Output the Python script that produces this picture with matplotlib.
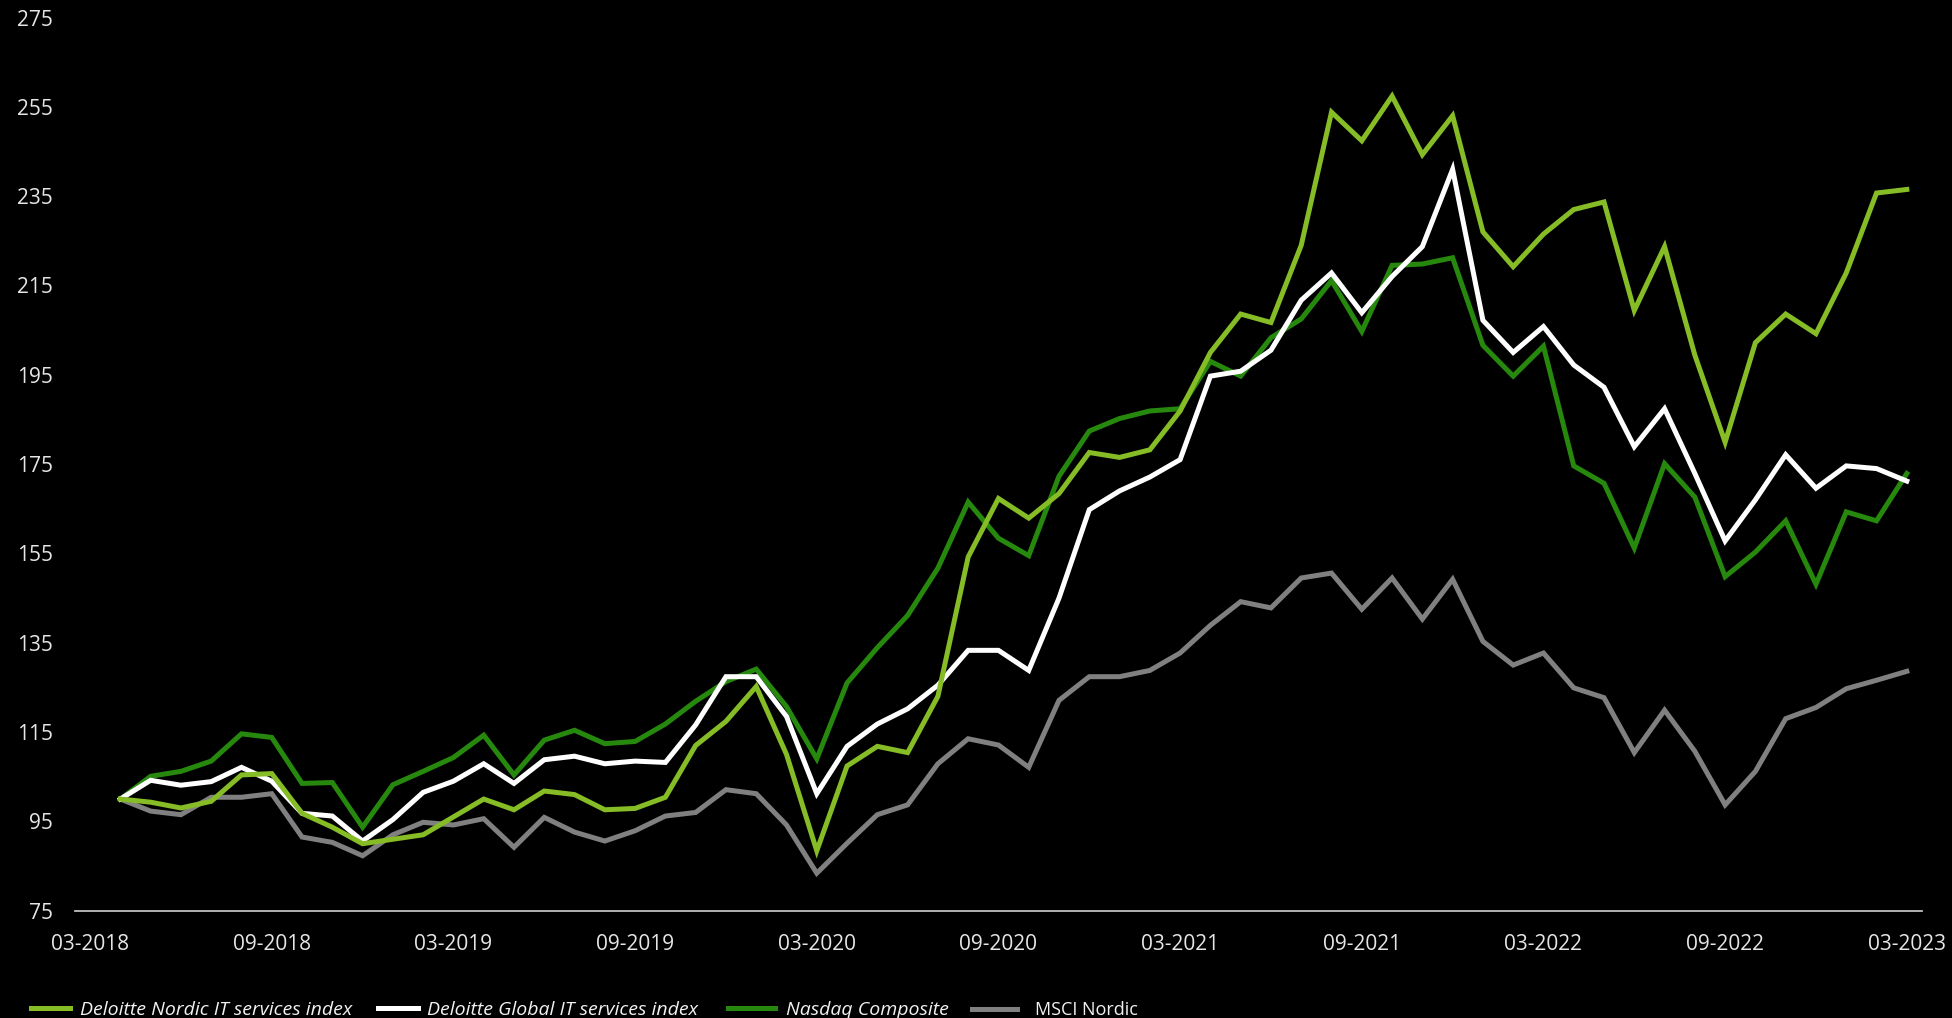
import matplotlib
matplotlib.use("Agg")
import matplotlib.pyplot as plt
from matplotlib.lines import Line2D

# month index: 0 = 03-2018 ... 60 = 03-2023, data starts at 04-2018
months = list(range(1, 61))
tick_pos = list(range(0, 61, 6))
tick_labels = ['03-2018', '09-2018', '03-2019', '09-2019', '03-2020', '09-2020',
               '03-2021', '09-2021', '03-2022', '09-2022', '03-2023']

nordic_it = [100, 99.3, 98, 99.5, 105.4, 105.7, 96.8, 93.7, 90, 91,
             92, 96, 100, 97.6, 101.8, 101, 97.6, 97.9, 100.4, 112,
             117.4, 125.2, 110, 88.4, 107.4, 111.8, 110.4, 123, 154.2, 167.3,
             162.9, 168.4, 177.6, 176.5, 178.2, 186.9, 200, 208.6, 206.7, 224,
             253.8, 247.4, 257.4, 244.3, 253, 227, 219.2, 226.5, 232, 233.7,
             209.4, 223.7, 199.4, 179.9, 202.2, 208.6, 204.2, 217.8, 235.7, 236.5]

global_it = [100, 104.2, 103.1, 103.9, 107.1, 104, 96.8, 96.2, 90.6, 95.4,
             101.5, 104, 107.9, 103.5, 108.8, 109.6, 107.9, 108.5, 108.2, 116.6,
             127.4, 127.4, 118.5, 101.2, 111.8, 116.8, 120.2, 125.5, 133.3, 133.3,
             128.8, 145, 164.8, 169, 172.1, 176, 194.7, 195.8, 200.5, 211.7,
             217.8, 208.9, 217, 223.7, 241, 207.2, 200, 205.8, 197.2, 192.2,
             178.9, 187.4, 172.9, 157.8, 167, 177.1, 169.6, 174.6, 174, 171.2]

nasdaq = [100, 105.1, 106.2, 108.5, 114.6, 113.8, 103.5, 103.7, 93.7, 103.2,
          106.2, 109.3, 114.3, 105.4, 113.2, 115.4, 112.4, 112.9, 116.8, 121.9,
          126.3, 129.1, 120.7, 109, 126, 133.9, 141.1, 151.7, 166.5, 158.4,
          154.5, 172.3, 182.4, 185.2, 186.9, 187.4, 198, 194.7, 203.3, 207.5,
          216.1, 204.7, 219.5, 219.8, 221.2, 201.6, 194.7, 201.4, 174.6, 170.7,
          156.2, 175.1, 167.6, 149.8, 155.3, 162.3, 148.1, 164.3, 162.3, 172.9]

msci_nordic = [100, 97.3, 96.5, 100.4, 100.4, 101.2, 91.5, 90.3, 87.3, 92,
               94.8, 94.2, 95.6, 89.2, 95.9, 92.6, 90.6, 92.9, 96.2, 97,
               102.1, 101.2, 94.2, 83.4, 90.1, 96.5, 98.7, 107.9, 113.5, 112.1,
               107.1, 122.1, 127.4, 127.4, 128.8, 132.7, 138.9, 144.2, 142.8, 149.5,
               150.6, 142.5, 149.5, 140.3, 149.2, 135.3, 130, 132.7, 124.9, 122.7,
               110.4, 119.9, 110.7, 98.7, 106.2, 118, 120.5, 124.7, 126.6, 128.6]

names = ['Deloitte Nordic IT services index', 'Deloitte Global IT services index',
         'Nasdaq Composite', 'MSCI Nordic']
colors = ['#86BC25', '#FFFFFF', '#26890D', '#808080']
series = [nordic_it, global_it, nasdaq, msci_nordic]

tick_font = ['Open Sans', 'DejaVu Sans']

fig = plt.figure(figsize=(19.52, 10.18), dpi=100, facecolor='black')
ax = fig.add_axes([0.0384, 0.1054, 0.9462, 0.8774], facecolor='black')

for vals, c, z in zip(series, colors, [4, 3, 2, 1]):
    ax.plot(months, vals, color=c, lw=3.6, zorder=z, solid_joinstyle='miter')

ax.set_xlim(-0.5, 60.5)
ax.set_ylim(75, 275)
ax.set_yticks(range(75, 276, 20))
ax.set_xticks(tick_pos)
ax.set_xticklabels(tick_labels)

for s in ['top', 'right', 'left']:
    ax.spines[s].set_visible(False)
ax.spines['bottom'].set_color('#BFBFBF')
ax.spines['bottom'].set_linewidth(1.3)
ax.tick_params(length=0, colors='#E6E6E6', labelsize=15)
ax.tick_params(axis='y', pad=16)
ax.tick_params(axis='x', pad=17)
for lab in ax.get_xticklabels() + ax.get_yticklabels():
    lab.set_family(tick_font)

# legend entries placed one by one, like the original
leg_x = [0.0161, 0.1939, 0.3730, 0.4980]
leg_hl = [2.0, 2.05, 2.4, 2.5]
leg_pad = [0.49, 0.45, 0.58, 1.0]
for i, (name, c) in enumerate(zip(names, colors)):
    leg = fig.legend([Line2D([0], [0], color=c, lw=3.6)], [name],
                     loc='center left', bbox_to_anchor=(leg_x[i], 0.008),
                     frameon=False, handlelength=leg_hl[i], handletextpad=leg_pad[i],
                     borderpad=0, borderaxespad=0,
                     prop={'family': tick_font, 'size': 14 if i < 3 else 13})
    t = leg.get_texts()[0]
    t.set_color('#F2F2F2')
    if i < 3:
        t.set_style('italic')

fig.savefig('out.png', dpi=100, facecolor='black')
